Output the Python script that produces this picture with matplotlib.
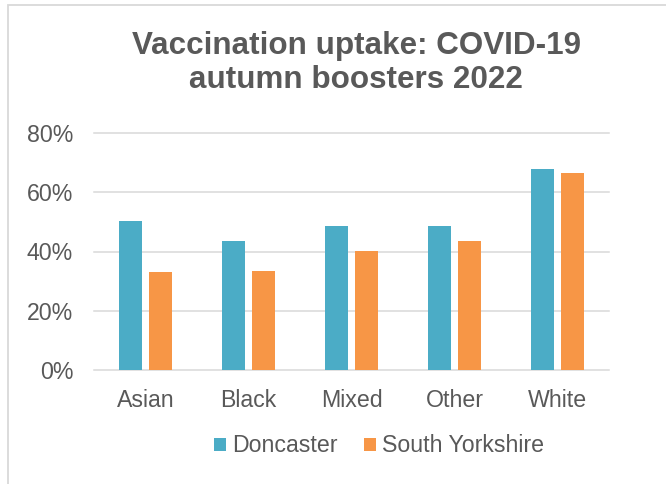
import numpy as np
import matplotlib.pyplot as plt
from matplotlib.patches import Patch, Rectangle

categories = ['Asian', 'Black', 'Mixed', 'Other', 'White']
doncaster = [0.502, 0.436, 0.487, 0.487, 0.678]
south_yorkshire = [0.332, 0.333, 0.403, 0.437, 0.665]
yticks = [0, 0.2, 0.4, 0.6, 0.8]

c_don = '#4BACC6'
c_sy = '#F79646'
txt = '#595959'
grid = '#D9D9D9'

plt.rcParams['font.family'] = ['Liberation Sans', 'DejaVu Sans']

fig = plt.figure(figsize=(6.66, 4.84), dpi=100)
ax = fig.add_axes([94/666, 1-370/484, (609-94)/666, (370-133)/484])

x = np.arange(len(categories))
w = 0.223
off = 0.142
ax.bar(x-off, doncaster, w, color=c_don, zorder=3)
ax.bar(x+off, south_yorkshire, w, color=c_sy, zorder=3)

ax.set_xlim(-0.5, len(categories)-0.5)
ax.set_ylim(0, 0.8)
ax.set_yticks(yticks)
ax.set_yticklabels(['%d%%' % round(v*100) for v in yticks])
ax.set_xticks(x)
ax.set_xticklabels(categories)
for v in yticks:
    ax.axhline(v, color=grid, lw=1.1, zorder=1, clip_on=False)
for s in ax.spines.values():
    s.set_visible(False)
ax.tick_params(axis='both', length=0, labelsize=16.7, colors=txt)
ax.tick_params(axis='y', pad=15)
ax.tick_params(axis='x', pad=13.5)

fig.text(356/666, 1-63/484, 'Vaccination uptake: COVID-19\nautumn boosters 2022',
         ha='center', va='center', fontsize=22.6, fontweight='bold', color=txt,
         linespacing=1.2)

handles = [Patch(facecolor=c_don, edgecolor='none'), Patch(facecolor=c_sy, edgecolor='none')]
fig.legend(handles, ['Doncaster', 'South Yorkshire'], loc='center',
           bbox_to_anchor=(379/666, 1-446/484), ncol=2, frameon=False,
           fontsize=16.7, labelcolor=txt, handlelength=0.52, handleheight=0.52,
           handletextpad=0.27, columnspacing=1.1, borderpad=0)

fig.patches.append(Rectangle((8/666, -0.1), 2, 1.1-5/484, transform=fig.transFigure,
                             fill=False, edgecolor=grid, lw=1.3))

fig.savefig('out.png', dpi=100)
